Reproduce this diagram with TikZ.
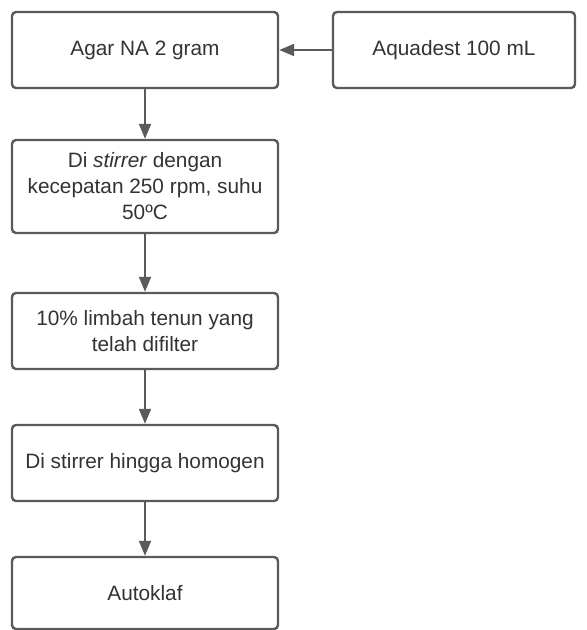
\documentclass[tikz,border=0pt]{standalone}
\usepackage{fontspec}
\setmainfont{Liberation Sans}
\usepackage{xcolor}
\usetikzlibrary{arrows.meta,positioning,calc}
\definecolor{Edge}{HTML}{5A5A5A}
\definecolor{Ink}{HTML}{333333}
\colorlet{BoxBg}{white}

\begin{document}
\begin{tikzpicture}[
  x=1pt, y=-1pt,
  every node/.style={font=\fontsize{20.8}{26}\selectfont, text=Ink},
  stepbox/.style={rectangle, rounded corners=4pt, draw=Edge, fill=BoxBg,
             line width=2.4pt, align=center, minimum width=266pt,
             minimum height=76pt, inner sep=4pt},
  arr/.style={-{Triangle[length=15pt,width=12pt]}, line width=1.8pt, draw=Edge},
]
\useasboundingbox (0,0) rectangle (587,630);
\node[stepbox] (agar) at (145, 50) {Agar NA 2 gram};
\node[stepbox, minimum width=242pt] (aqua) at (454, 50) {Aquadest 100 mL};
\node[stepbox, minimum height=93pt] (stir) at (145, 186.5)
     {Di \textit{stirrer} dengan\\kecepatan 250 rpm, suhu\\50ºC};
\node[stepbox] (limb) at (145, 331) {10\% limbah tenun yang\\telah difilter};
\node[stepbox] (homo) at (145, 463) {Di stirrer hingga homogen};
\node[stepbox, minimum height=72pt] (auto) at (145, 593) {Autoklaf};
\draw[arr] (aqua.west) -- (agar.east);
\draw[arr] (agar.south) -- (stir.north);
\draw[arr] (stir.south) -- (limb.north);
\draw[arr] (limb.south) -- (homo.north);
\draw[arr] (homo.south) -- (auto.north);
\end{tikzpicture}
\end{document}
